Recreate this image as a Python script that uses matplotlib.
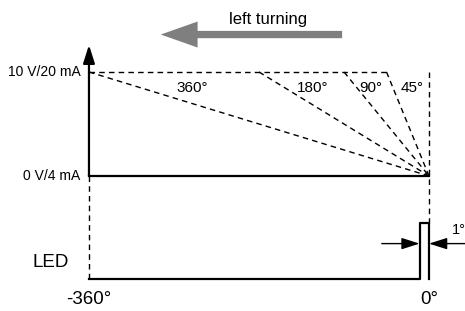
import matplotlib.pyplot as plt
from matplotlib.patches import FancyArrow

# Analog output ramps: start angle (degrees before 0°) for each range
ramp_angles = [360, 180, 90, 45]
ramp_labels = ["360°", "180°", "90°", "45°"]
label_x = [-251, -123, -62, -18]

# Output levels
level_low = 0
level_high = 10
level_labels = ["0 V/4 mA", "10 V/20 mA"]

# LED trace
led_low = -9.9
led_high = -4.5
led_pulse = 10  # drawn width of the 1° pulse

x_ticks = [-360, 0]
x_tick_labels = ["-360°", "0°"]

plt.rcParams['font.family'] = ['Liberation Sans', 'DejaVu Sans']

fig = plt.figure(figsize=(4.65, 3.11), dpi=100)
ax = fig.add_axes([0, 0, 1, 1])
ax.set_xlim(-454.2, 38.1)
ax.set_ylim(-12.98, 16.92)
ax.axis("off")

dash = dict(color="black", lw=1, linestyle=(0, (4, 3)))

# Top level dashed line and ramps
ax.plot([-360, -min(ramp_angles)], [level_high, level_high], **dash)
for a in ramp_angles:
    ax.plot([-a, 0], [level_high, level_low], **dash)
for lab, lx in zip(ramp_labels, label_x):
    ax.text(lx, 8.5, lab, ha="center", va="center", fontsize=11)

# Vertical dashed guides
ax.plot([0, 0], [level_high, led_high], **dash)
ax.plot([-360, -360], [level_low, led_low], **dash)

# Y axis with arrow and zero line
ax.plot([-360, 0], [level_low, level_low], color="black", lw=1.6)
ax.annotate("", xy=(-360, 12.6), xytext=(-360, level_low),
            arrowprops=dict(arrowstyle="-|>,head_width=0.35,head_length=1.1",
                            color="black", lw=1.6, shrinkA=0, shrinkB=0))
ax.text(-369, level_high, level_labels[1], ha="right", va="center", fontsize=10)
ax.text(-369, level_low, level_labels[0], ha="right", va="center", fontsize=10)

# LED trace
ax.plot([-360, -led_pulse, -led_pulse, 0, 0],
        [led_low, led_low, led_high, led_high, led_low],
        color="black", lw=1.6)
ax.text(-401, -8.3, "LED", ha="center", va="center", fontsize=13.5)

# 1° width arrows
arr = dict(arrowstyle="-|>,head_width=0.35,head_length=1.1", color="black",
           lw=1, shrinkA=0, shrinkB=0)
ax.annotate("", xy=(-led_pulse, -6.5), xytext=(-50, -6.5), arrowprops=arr)
ax.annotate("", xy=(0, -6.5), xytext=(38, -6.5), arrowprops=arr)
ax.text(24.5, -5.2, "1°", ha="left", va="center", fontsize=10.5)

# X tick labels
for xt, lab in zip(x_ticks, x_tick_labels):
    ax.text(xt, -11.9, lab, ha="center", va="center", fontsize=13.5)

# Direction arrow
ax.add_patch(FancyArrow(-92, 13.6, -192, 0, width=0.7, head_width=2.5,
                        head_length=39, length_includes_head=True,
                        color="#7f7f7f", lw=0))
ax.text(-170, 15.0, "left turning", ha="center", va="center", fontsize=12)

fig.savefig("out.png", dpi=100)
